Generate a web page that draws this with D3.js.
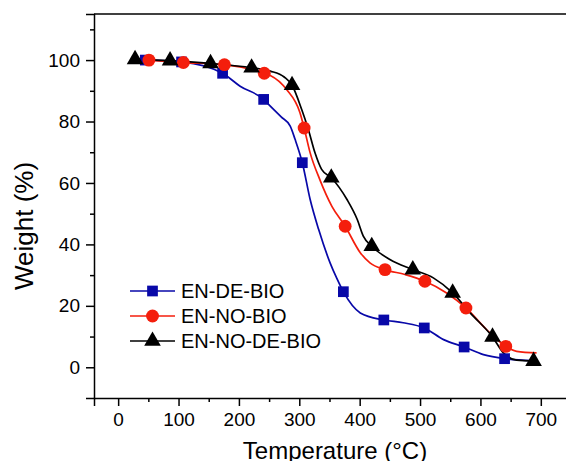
<!DOCTYPE html>
<html>
<head>
<meta charset="utf-8">
<script src="https://cdn.jsdelivr.net/npm/d3@7"></script>
<style>
  body { margin: 0; background: #fff; }
  svg { display: block; font-family: "Liberation Sans", Arial, sans-serif; }
</style>
</head>
<body>
<svg width="566" height="461"></svg>
<script>
// axis ticks
var xTicks = [0, 100, 200, 300, 400, 500, 600, 700];
var yTicks = [0, 20, 40, 60, 80, 100];

// series names
var names = ["EN-DE-BIO", "EN-NO-BIO", "EN-NO-DE-BIO"];

// marker points (temperature, weight)
var deMarkT = [45, 105, 173, 241, 305, 373, 440, 507, 573, 640];
var deMarkW = [100, 99.4, 95.7, 87.2, 66.6, 24.6, 15.4, 12.8, 6.6, 2.8];
var noMarkT = [51, 108, 176, 242, 308, 376, 442, 508, 576, 642];
var noMarkW = [100, 99.2, 98.5, 95.7, 77.9, 45.9, 31.8, 28, 19.3, 6.8];
var nodeMarkT = [28, 86, 153, 221, 288, 353, 420, 488, 554, 620, 688];
var nodeMarkW = [100.2, 99.8, 98.9, 97.5, 91.8, 61.7, 39.4, 31.8, 24.2, 9.9, 2.0];

// curve
var deCurveT = [45, 105, 173, 202, 241, 252, 270, 285, 293, 305, 318, 332, 351, 362, 373, 401, 440, 472, 507, 539, 573, 605, 640, 687];
var deCurveW = [100, 99.4, 95.7, 91.5, 87.2, 85, 81.5, 78.5, 74.2, 66.6, 54.6, 44.9, 34, 29, 24.6, 17.7, 15.4, 14.5, 12.8, 9.0, 6.6, 4.1, 2.8, 2.2];
var noCurveT = [51, 108, 176, 242, 252, 279, 301, 308, 318, 334, 354, 376, 401, 417, 442, 475, 508, 544, 576, 610, 642, 660, 693];
var noCurveW = [100, 99.2, 98.5, 95.7, 95, 90.4, 82.9, 77.9, 69.8, 61.1, 52.4, 45.9, 37.3, 34, 31.8, 30.2, 28, 24.2, 19.3, 12.3, 6.8, 5.2, 4.7];
var nodeCurveT = [28, 86, 153, 221, 252, 275, 288, 304, 315, 326, 337, 353, 379, 396, 406, 420, 450, 488, 522, 554, 583, 620, 638, 660, 688];
var nodeCurveW = [100.2, 99.8, 98.9, 97.5, 96.4, 94.5, 91.8, 83.9, 77.4, 69.8, 64.4, 61.7, 54.6, 48.1, 42.7, 39.4, 35.1, 31.8, 29.1, 24.2, 17.7, 9.9, 4.7, 2.3, 2.0];

var colors = ["#0808a8", "#f41e0c", "#000000"];
var symbols = [d3.symbolSquare, d3.symbolCircle, d3.symbolTriangle];
var symSizes = [115, 130, 120];

var margin = {top: 14, left: 94},
  width = 477, height = 384;

var svg = d3.select("svg");
var g = svg.append("g").attr("transform", "translate(" + margin.left + "," + margin.top + ")");

var x = d3.scaleLinear().domain([-40, 750]).range([0, width]);
var y = d3.scaleLinear().domain([-10, 115]).range([height, 0]);

function zip(a, b) { return a.map(function(v, i) { return [v, b[i]]; }); }
var curves = [zip(deCurveT, deCurveW), zip(noCurveT, noCurveW), zip(nodeCurveT, nodeCurveW)];
var marks = [zip(deMarkT, deMarkW), zip(noMarkT, noMarkW), zip(nodeMarkT, nodeMarkW)];

var line = d3.line()
  .x(function(d) { return x(d[0]); })
  .y(function(d) { return y(d[1]); })
  .curve(d3.curveMonotoneX);

// minor ticks
var xMinor = [-50, 50, 150, 250, 350, 450, 550, 650].filter(function(t) { return t > -40; });
var yMinor = [10, 30, 50, 70, 90, 110];

// x axis
g.append("g").attr("transform", "translate(0," + height + ")")
  .call(d3.axisBottom(x).tickValues(xTicks).tickSize(8).tickPadding(7));
g.append("g").attr("transform", "translate(0," + height + ")")
  .call(d3.axisBottom(x).tickValues(xMinor).tickSize(4).tickFormat(""))
  .select(".domain").remove();

// y axis
g.append("g")
  .call(d3.axisLeft(y).tickValues(yTicks).tickSize(8).tickPadding(6));
g.append("g")
  .call(d3.axisLeft(y).tickValues(yMinor).tickSize(4).tickFormat(""))
  .select(".domain").remove();

g.selectAll(".tick text").style("font-size", "19px").attr("fill", "#000");
g.selectAll(".tick line").attr("stroke", "#000").attr("stroke-width", 1.5);
g.selectAll(".domain").attr("stroke", "#000").attr("stroke-width", 1.5);

// frame top and right
g.append("line").attr("x1", 0).attr("x2", width).attr("y1", 0).attr("y2", 0)
  .attr("stroke", "#000").attr("stroke-width", 1.5);
g.append("line").attr("x1", width).attr("x2", width).attr("y1", 0).attr("y2", height)
  .attr("stroke", "#000").attr("stroke-width", 1.5);

// series
curves.forEach(function(c, i) {
  g.append("path").datum(c)
    .attr("d", line)
    .attr("fill", "none")
    .attr("stroke", colors[i])
    .attr("stroke-width", 1.7);
});
marks.forEach(function(m, i) {
  g.selectAll(".mk" + i).data(m).enter().append("path")
    .attr("class", "mk" + i)
    .attr("transform", function(d) { return "translate(" + x(d[0]) + "," + y(d[1]) + ")"; })
    .attr("d", d3.symbol().type(symbols[i]).size(symSizes[i]))
    .attr("fill", colors[i]);
});

// legend
var legend = svg.append("g").attr("transform", "translate(130,291)");
names.forEach(function(n, i) {
  var row = legend.append("g").attr("transform", "translate(0," + (i * 25) + ")");
  row.append("line").attr("x1", 0).attr("x2", 45).attr("y1", 0).attr("y2", 0)
    .attr("stroke", colors[i]).attr("stroke-width", 1.7);
  row.append("path").attr("transform", "translate(22.5,0)")
    .attr("d", d3.symbol().type(symbols[i]).size(symSizes[i]))
    .attr("fill", colors[i]);
  row.append("text").attr("x", 51).attr("y", 7)
    .style("font-size", "20px").text(n);
});

// axis titles
svg.append("text")
  .attr("transform", "translate(33,226) rotate(-90)")
  .attr("text-anchor", "middle")
  .style("font-size", "26px")
  .text("Weight (%)");
svg.append("text")
  .attr("x", 335).attr("y", 459)
  .attr("text-anchor", "middle")
  .style("font-size", "24px")
  .text("Temperature (°C)");
</script>
</body>
</html>
